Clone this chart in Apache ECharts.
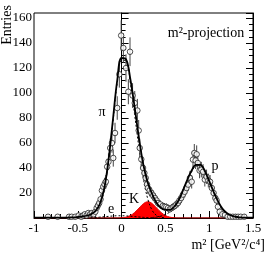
<!DOCTYPE html>
<html><head><meta charset="utf-8">
<script src="https://cdn.jsdelivr.net/npm/echarts@6/dist/echarts.min.js"></script>
<style>html,body{margin:0;padding:0;background:#fff}#c{width:266px;height:257px}</style>
</head><body><div id="c"></div>
<script>
// fit-curve sample positions (m^2)
const xs = [-1.00,-0.95,-0.90,-0.85,-0.80,-0.75,-0.70,-0.65,-0.60,-0.55,
  -0.50,-0.45,-0.40,-0.35,-0.30,-0.25,-0.20,-0.15,-0.10,-0.05,
  0.00,0.05,0.10,0.15,0.20,0.25,0.30,0.35,0.40,0.45,
  0.50,0.55,0.60,0.65,0.70,0.75,0.80,0.85,0.90,0.95,
  1.00,1.05,1.10,1.15,1.20,1.25,1.30,1.35,1.40,1.45,1.50];
// total fit
const fitTotal = [0.3,0.3,0.3,0.3,0.3,0.3,0.3,0.3,0.4,0.5,
  0.8,1.2,1.8,3.0,5.5,11,23,46,78,110,
  128,127,111,88,63,42,28,19,12,8,
  6.5,6.5,9,14,22,30.5,38,42.5,42.5,37.5,
  29.5,21,13.5,7.5,4,2,1,0.5,0.3,0.2,0.2];
// pion component
const fitPi = [null,null,null,null,null,null,null,null,null,null,
  0.3,0.6,1.2,2.4,4.8,10,22,45,76,108,
  126,126,108,82,55,31,15,6,2,0.6,
  0.2,null,null,null,null,null,null,null,null,null,
  null,null,null,null,null,null,null,null,null,null,null];
// kaon component
const fitK = [0,0,0,0,0,0,0,0,0,0,
  0,0,0,0,0,0,0,0,0,0,
  0.2,0.7,2,4.5,8,11.5,13,11.5,8,4.5,
  2,0.7,0.2,0,0,0,0,0,0,0,
  0,0,0,0,0,0,0,0,0,0,0];
// proton component
const fitP = [null,null,null,null,null,null,null,null,null,null,
  null,null,null,null,null,null,null,null,null,null,
  null,null,null,null,null,null,null,0.4,0.8,1.5,
  2.8,4.8,8,13.5,21,29.5,37,41.5,41.8,37,
  29,20.7,13.3,7.4,3.9,1.9,0.9,0.4,0.2,0.1,0.1];
// electron component
const fitE = [null,null,null,null,null,null,null,null,null,null,
  null,null,0.1,0.2,0.4,0.7,1.0,1.3,1.6,1.8,
  1.8,1.7,1.4,1.1,0.8,0.5,0.3,0.15,0.05,null,
  null,null,null,null,null,null,null,null,null,null,
  null,null,null,null,null,null,null,null,null,null,null];

// measured points
const ptsX = [-0.84,-0.73,-0.60,-0.57,-0.53,-0.49,-0.46,-0.44,-0.42,-0.40,
  -0.38,-0.36,-0.34,-0.32,-0.30,-0.285,-0.27,-0.255,-0.24,-0.225,
  -0.21,-0.195,-0.18,-0.165,-0.15,-0.13,-0.11,-0.095,-0.075,-0.05,
  -0.026,-0.005,0.02,0.05,0.077,0.096,0.125,0.15,0.18,0.195,
  0.207,0.225,0.245,0.26,0.275,0.29,0.30,0.32,0.34,0.36,
  0.38,0.40,0.415,0.44,0.47,0.49,0.51,0.53,0.55,0.57,
  0.59,0.606,0.625,0.644,0.66,0.68,0.70,0.72,0.74,0.76,
  0.78,0.80,0.815,0.83,0.845,0.857,0.87,0.89,0.91,0.93,
  0.95,0.97,0.99,1.01,1.03,1.05,1.07,1.085,1.10,1.12,
  1.15,1.18,1.21,1.24,1.27,1.30,1.33,1.36,1.40];
const ptsY = [1,1,1,1,1,2,1,2,3,2,
  4,3,4,3,5,8,10,12,15,22,
  25,27,29,41,45,56,60,48,68,88,
  115,146,136,120,101,133,98,92,86,70,
  56,47,40,36,32,27,24,22,20,18,
  16,14,12,11,9.6,9,8.8,8,7,8,
  9,9.6,11,12,14,16,18.7,21,24,26.7,
  32,29,46.7,52,46,51,44,38,38.7,37,
  30.7,33,30,29,24,20,16,14,9,5,
  3,2.4,1,1,1,1,1,1,1];
const ptsErr = [1,1,1,1,1,1.4,1,1.4,1.7,1.4,
  2,1.7,2,1.7,2.2,2.8,3.2,3.5,3.9,4.7,
  5,5.2,5.4,6.4,6.7,7.5,7.7,6.9,8.2,9.4,
  10.7,12.1,11.7,11,10,11.5,9.9,9.6,9.3,8.4,
  7.5,6.9,6.3,6,5.7,5.2,4.9,4.7,4.5,4.2,
  4,3.7,3.5,3.3,3.1,3,3,2.8,2.6,2.8,
  3,3.1,3.3,3.5,3.7,4,4.3,4.6,4.9,5.2,
  5.7,5.4,6.8,7.2,6.8,7.1,6.6,6.2,6.2,6.1,
  5.5,5.7,5.5,5.4,4.9,4.5,4,3.7,3,2.2,
  1.7,1.5,1,1,1,1,1,1,1];

const xTicks = [-1, -0.5, 0, 0.5, 1, 1.5];
const yTicks = [20, 40, 60, 80, 100, 120, 140, 160];

const pair = arr => xs.map((x, i) => [x, arr[i] === null ? '-' : arr[i]]);
const pts = ptsX.map((x, i) => [x, ptsY[i], ptsErr[i]]);
const FONT = 'Liberation Serif';

const chart = echarts.init(document.getElementById('c'), null, {renderer: 'canvas'});
const yAxisBase = {
  type: 'value', min: 0, max: 164, interval: 20,
  axisLine: {show: true, lineStyle: {color: '#000', width: 1}},
  axisTick: {show: true, inside: true, length: 7, lineStyle: {color: '#000'}},
  minorTick: {show: true, splitNumber: 4, length: 4, lineStyle: {color: '#000'}},
  splitLine: {show: false}
};
chart.setOption({
  animation: false,
  backgroundColor: '#fff',
  grid: {left: 34, right: 13, top: 13, bottom: 39, show: true, borderColor: '#000', borderWidth: 1},
  xAxis: {
    type: 'value', min: -1, max: 1.5, interval: 0.5,
    axisLine: {show: true, lineStyle: {color: '#000', width: 1}},
    axisTick: {show: true, inside: true, length: 7, lineStyle: {color: '#000'}},
    minorTick: {show: true, splitNumber: 5, length: 4, lineStyle: {color: '#000'}},
    splitLine: {show: false},
    axisLabel: {color: '#000', fontFamily: FONT, fontSize: 13, margin: 4,
      formatter: v => xTicks.includes(v) ? String(v) : ''}
  },
  yAxis: [
    Object.assign({}, yAxisBase, {
      position: 'left',
      axisLabel: {color: '#000', fontFamily: FONT, fontSize: 13, margin: 2,
        showMinLabel: false, showMaxLabel: false,
        formatter: v => yTicks.includes(v) ? String(v) : ''}
    }),
    Object.assign({}, yAxisBase, {position: 'right', axisLabel: {show: false}})
  ],
  series: [
    {type: 'line', name: 'K', data: pair(fitK), smooth: 0.4, symbol: 'none',
     lineStyle: {color: '#e00000', width: 1}, areaStyle: {color: '#ff0000', opacity: 1}, z: 1},
    {type: 'line', name: 'e', data: pair(fitE), smooth: 0.4, symbol: 'none',
     lineStyle: {color: '#000', width: 1, type: [2, 2]}, z: 2},
    {type: 'line', name: 'pi', data: pair(fitPi), smooth: 0.4, symbol: 'none',
     lineStyle: {color: '#000', width: 1, type: [2, 2]}, z: 2},
    {type: 'line', name: 'p', data: pair(fitP), smooth: 0.4, symbol: 'none',
     lineStyle: {color: '#000', width: 1, type: [2, 2]}, z: 2},
    {type: 'custom', name: 'err', data: pts, encode: {x: 0, y: 1}, z: 3,
     renderItem: (params, api) => {
       const x = api.value(0), y = api.value(1), e = api.value(2);
       const a = api.coord([x, Math.max(0, y - e)]);
       const b = api.coord([x, y + e]);
       return {type: 'line', shape: {x1: a[0], y1: a[1], x2: b[0], y2: b[1]},
         style: {stroke: '#444', lineWidth: 1}};
     }},
    {type: 'scatter', name: 'data', data: pts.map(p => [p[0], p[1]]), symbol: 'circle', symbolSize: 5.5,
     itemStyle: {color: '#fff', borderColor: '#222', borderWidth: 1}, z: 4},
    {type: 'line', name: 'total', data: pair(fitTotal), smooth: 0.4, symbol: 'none',
     lineStyle: {color: '#000', width: 1.8}, z: 5}
  ],
  graphic: [
    {type: 'text', x: 7, y: 25, rotation: Math.PI / 2,
     style: {text: 'Entries', fontFamily: FONT, fontSize: 14, fill: '#000', align: 'center', verticalAlign: 'middle'}},
    {type: 'text', x: 206, y: 33,
     style: {text: 'm²-projection', fontFamily: FONT, fontSize: 14, fill: '#000', align: 'center', verticalAlign: 'middle'}},
    {type: 'text', x: 265, y: 245,
     style: {text: 'm² [GeV²/c⁴]', fontFamily: FONT, fontSize: 14, fill: '#000', align: 'right', verticalAlign: 'middle'}},
    {type: 'text', x: 102, y: 112,
     style: {text: 'π', fontFamily: FONT, fontSize: 14, fill: '#000', align: 'center', verticalAlign: 'middle'}},
    {type: 'text', x: 134, y: 199,
     style: {text: 'K', fontFamily: FONT, fontSize: 14, fill: '#000', align: 'center', verticalAlign: 'middle'}},
    {type: 'text', x: 111, y: 209,
     style: {text: 'e', fontFamily: FONT, fontSize: 14, fill: '#000', align: 'center', verticalAlign: 'middle'}},
    {type: 'text', x: 215, y: 166,
     style: {text: 'p', fontFamily: FONT, fontSize: 14, fill: '#000', align: 'center', verticalAlign: 'middle'}}
  ]
});
</script></body></html>
